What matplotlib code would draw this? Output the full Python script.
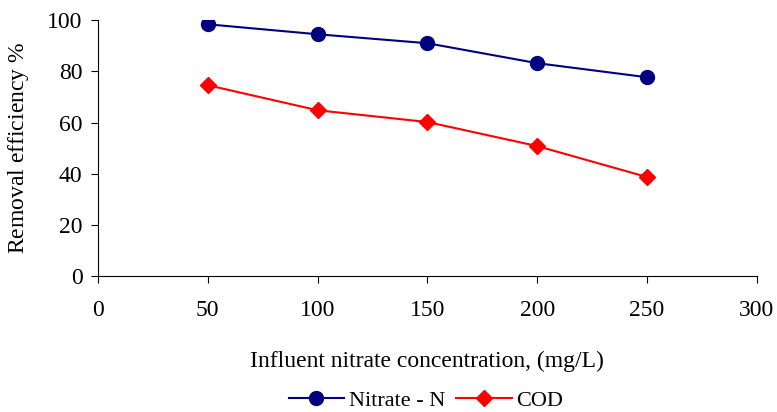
import matplotlib
matplotlib.use("Agg")
import matplotlib.pyplot as plt

conc = [50, 100, 150, 200, 250]
nitrate = [98.4, 94.5, 91.0, 83.2, 77.7]
cod = [74.6, 64.8, 60.2, 50.8, 38.7]

plt.rcParams['font.family'] = ['Liberation Serif', 'DejaVu Serif']
plt.rcParams['mathtext.fontset'] = 'custom'
plt.rcParams['mathtext.it'] = 'Liberation Serif:italic'
plt.rcParams['mathtext.rm'] = 'Liberation Serif'

fig = plt.figure(figsize=(7.77, 4.12), dpi=100)
ax = fig.add_axes([0.126, 0.330, 0.848, 0.621])
ax.plot(conc, nitrate, color='#000080', marker='o', markersize=10, lw=1.5, label='Nitrate - N')
ax.plot(conc, cod, color='#ff0000', marker='D', markersize=8, lw=1.5, label='COD')
ax.set_xlim(0, 300)
ax.set_ylim(0, 100)
ax.set_xticks(range(0, 301, 50))
ax.set_yticks(range(0, 101, 20))
ax.spines['top'].set_visible(False)
ax.spines['right'].set_visible(False)
ax.tick_params(direction='out', labelsize=17, length=5)
ax.tick_params(axis='x', pad=12)
ax.tick_params(axis='y', pad=6)
ax.set_xlabel('Influent nitrate concentration, (mg/L)', fontsize=17, labelpad=22)
ax.set_ylabel('Removal efficiency $\\mathit{\\%}$', fontsize=17, labelpad=12)
fig.legend(loc='lower center', ncol=2, frameon=False, fontsize=16, bbox_to_anchor=(0.548, -0.045),
           handlelength=2.5, columnspacing=0.5, handletextpad=0.2)
fig.savefig('out.png', dpi=100)
